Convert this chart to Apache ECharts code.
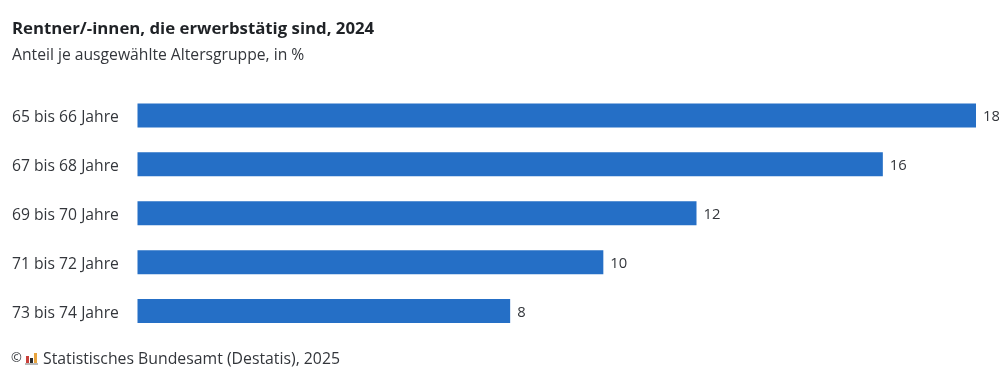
<!DOCTYPE html>
<html><head><meta charset="utf-8">
<style>html,body{margin:0;padding:0;background:#fff}#c{width:999px;height:378px}</style>
<script src="https://cdn.jsdelivr.net/npm/echarts@6/dist/echarts.min.js"></script></head>
<body><div id="c"></div>
<script>
const categories=["65 bis 66 Jahre","67 bis 68 Jahre","69 bis 70 Jahre","71 bis 72 Jahre","73 bis 74 Jahre"];
const values=[18,16,12,10,8];
const titleText="Rentner/-innen, die erwerbstätig sind, 2024";
const subtitleText="Anteil je ausgewählte Altersgruppe, in %";
const sourceText="Statistisches Bundesamt (Destatis), 2025";
const F='"Open Sans","Noto Sans",sans-serif';
const chart=echarts.init(document.getElementById('c'),null,{renderer:'canvas'});
chart.setOption({
 animation:false,
 backgroundColor:'#fff',
 grid:{left:137.5,right:23,top:91,bottom:42.5,containLabel:false},
 xAxis:{type:'value',min:0,max:18,show:false},
 yAxis:{type:'category',inverse:true,data:categories,axisLine:{show:false},axisTick:{show:false},
  axisLabel:{fontFamily:F,fontSize:15.7,color:'#33363b',align:'left',margin:125.5,verticalAlign:'top',lineHeight:5}},
 series:[{type:'bar',data:values,barWidth:24,itemStyle:{color:'#256fc6'},
  label:{show:true,position:'right',distance:7,offset:[0,1.5],fontFamily:F,fontSize:14.8,color:'#33363b'}}],
 graphic:[
  {type:'text',left:12,top:21,style:{text:titleText,fontFamily:F,fontSize:16.8,fontWeight:700,fill:'#1f2226'}},
  {type:'text',left:12,top:48,style:{text:subtitleText,fontFamily:F,fontSize:15.7,fill:'#33363b'}},
  {type:'text',left:11,top:352,style:{text:'©',fontFamily:F,fontSize:13,fill:'#33363b'}},
  {type:'rect',shape:{x:26,y:356,width:3,height:7},style:{fill:'#c9403a'}},
  {type:'rect',shape:{x:30,y:358,width:3,height:5},style:{fill:'#2b2b2b'}},
  {type:'rect',shape:{x:34,y:353,width:3,height:10},style:{fill:'#e8a33d'}},
  {type:'rect',shape:{x:25,y:363,width:13,height:2},style:{fill:'#b9b9b9'}},
  {type:'text',left:43,top:351,style:{text:sourceText,fontFamily:F,fontSize:15.8,fill:'#33363b'}}
 ]
});
</script></body></html>
